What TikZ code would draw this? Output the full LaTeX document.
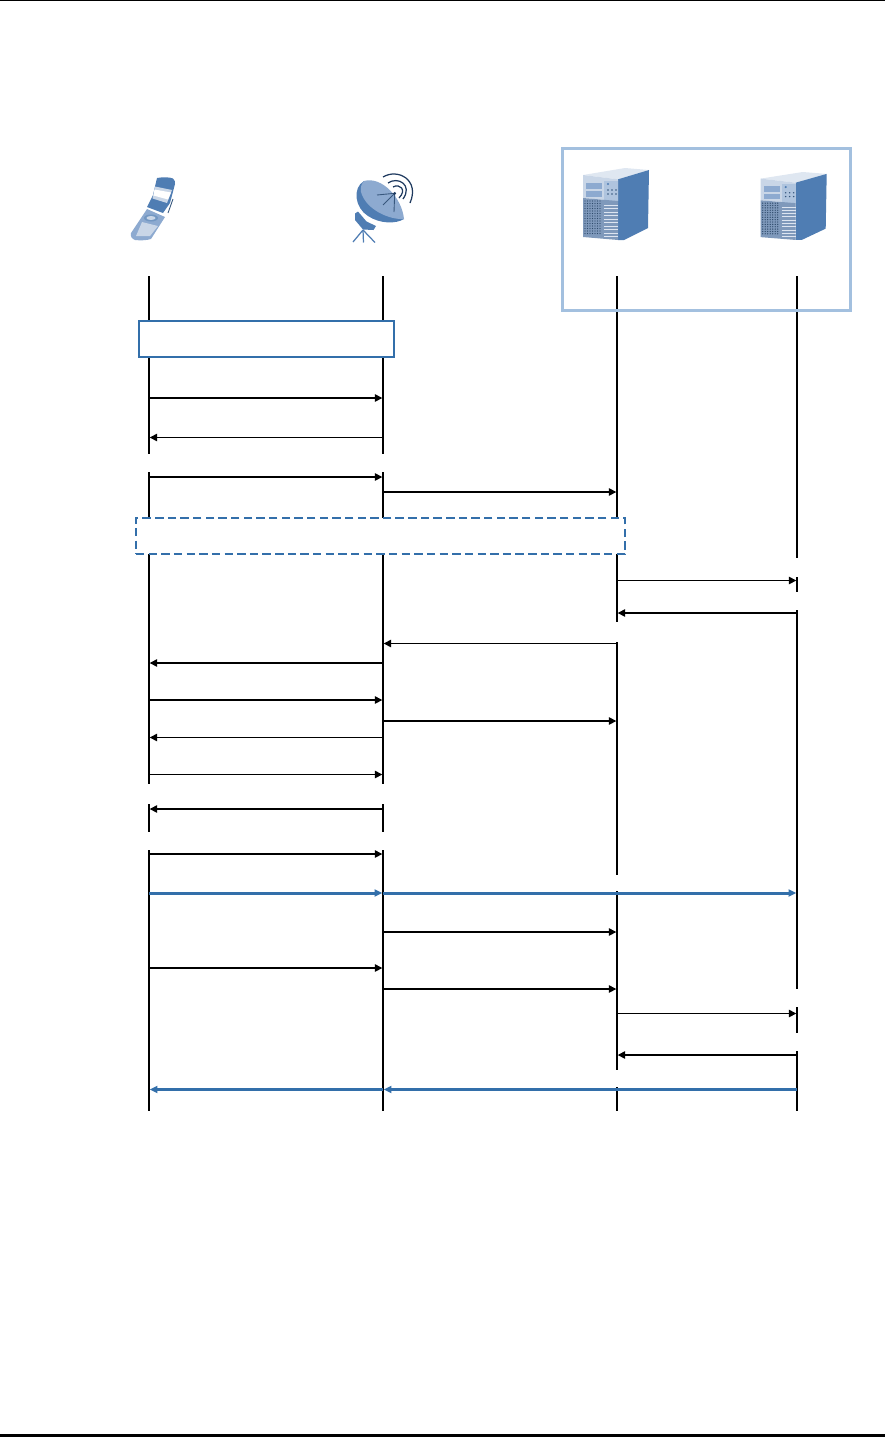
\documentclass[tikz,border=0pt]{standalone}
\usepackage{xcolor}
\usetikzlibrary{arrows.meta, calc, positioning}
\definecolor{msgblue}{HTML}{336FAA}
\definecolor{framelt}{HTML}{A3C0DF}
\definecolor{icondk}{HTML}{4F7DB3}
\definecolor{iconmd}{HTML}{8DAAD0}
\definecolor{iconlt}{HTML}{C9D6E7}
\definecolor{iconnavy}{HTML}{1F3A5F}
\tikzset{
    pics/server/.style={code={
        \fill[iconlt!60!white] (0,7) -- (42,0) -- (66,2) -- (35,11.3) -- cycle;
        \fill[icondk] (35,11.3) -- (66,2) -- (65,60) -- (41,72) -- (35,72) -- cycle;
        \fill[iconlt] (0,7) -- (35,11.3) -- (35,33) -- (0,30) -- cycle;
        \fill[iconmd] (3,15) rectangle (19,21);
        \fill[iconmd] (3,23) rectangle (19,29);
        \fill[iconmd!70!white] (21,12.5) rectangle (35,33);
        \fill[icondk] (25,16) circle (1.2);
        \foreach \dx in {25,29,33} \foreach \dy in {22,26}
            \fill[icondk!70!black] (\dx,\dy) circle (0.8);
        \fill[iconmd!90!black] (0,30) -- (35,33) -- (35,72) -- (0,69) -- cycle;
        % grille on the front, dots then slats
        \foreach \dx in {2,4.5,...,19} \foreach \dy in {33,35.5,...,67}
            \fill[icondk!60!black] (\dx,\dy) circle (0.7);
        \foreach \dy in {37,40.5,...,70}
            \draw[white!70!iconmd, line width=0.45pt] (21,\dy) -- (35,\dy);
    }},
}
\begin{document}
\begin{tikzpicture}[
    x=0.02cm, y=-0.02cm,
    life/.style={line width=1.15pt, black},
    msg/.style={-{Triangle[length=4.2pt,width=4.2pt]}, line width=0.85pt, black, shorten >=0.4pt},
    msgbold/.style={-{Triangle[length=4.4pt,width=4pt]}, line width=1.7pt, msgblue, shorten >=0.4pt},
    solidbox/.style={draw=msgblue, line width=1.15pt, fill=white, inner sep=0pt, outer sep=0pt},
    dashbox/.style={draw=msgblue, line width=1.15pt, fill=white, inner sep=0pt, outer sep=0pt,
        dash pattern=on 4.8pt off 2.4pt},
    groupbox/.style={draw=framelt, line width=1.7pt, inner sep=0pt, outer sep=0pt},
    pagerule/.style={black},
]
\useasboundingbox (0,0) rectangle (885,1437);

% page rules
\fill[pagerule] (0,0) rectangle (885,1.2);
\fill[pagerule] (0,1434) rectangle (885,1437);

% --- heads of the lifelines ---
\coordinate (phone) at (149,276);
\coordinate (dish)  at (383,276);
\coordinate (srvA)  at (617,276);
\coordinate (srvB)  at (797,276);

% --- breaks in the lifelines (y heights) ---
\coordinate (gapAa) at (0,454);
\coordinate (gapAb) at (0,472);
\coordinate (gapBa) at (0,784);
\coordinate (gapBb) at (0,804);
\coordinate (gapCa) at (0,832);
\coordinate (gapCb) at (0,850);
\coordinate (gapDa) at (0,622);
\coordinate (gapDb) at (0,642);
\coordinate (gapEa) at (0,875);
\coordinate (gapEb) at (0,891);
\coordinate (gapFa) at (0,1070);
\coordinate (gapFb) at (0,1087);
\coordinate (gapGa) at (0,558);
\coordinate (gapGb) at (0,577);
\coordinate (gapHa) at (0,592);
\coordinate (gapHb) at (0,610);
\coordinate (gapIa) at (0,989);
\coordinate (gapIb) at (0,1007);
\coordinate (gapJa) at (0,1033);
\coordinate (gapJb) at (0,1051);
\coordinate (foot)  at (0,1111);

% phone and dish lifelines
\draw[life] (phone) -- (phone |- gapAa);
\draw[life] (phone |- gapAb) -- (phone |- gapBa);
\draw[life] (phone |- gapBb) -- (phone |- gapCa);
\draw[life] (phone |- gapCb) -- (phone |- foot);
\draw[life] (dish) -- (dish |- gapAa);
\draw[life] (dish |- gapAb) -- (dish |- gapBa);
\draw[life] (dish |- gapBb) -- (dish |- gapCa);
\draw[life] (dish |- gapCb) -- (dish |- foot);
% server lifelines
\draw[life] (srvA) -- (srvA |- gapDa);
\draw[life] (srvA |- gapDb) -- (srvA |- gapEa);
\draw[life] (srvA |- gapEb) -- (srvA |- gapFa);
\draw[life] (srvA |- gapFb) -- (srvA |- foot);
\draw[life] (srvB) -- (srvB |- gapGa);
\draw[life] (srvB |- gapGb) -- (srvB |- gapHa);
\draw[life] (srvB |- gapHb) -- (srvB |- gapIa);
\draw[life] (srvB |- gapIb) -- (srvB |- gapJa);
\draw[life] (srvB |- gapJb) -- (srvB |- foot);

% --- boxes over the lifelines ---
\node[solidbox, minimum width=5.09cm, minimum height=0.71cm] (setup) at (266.4,338.8) {};
\node[dashbox, minimum width=9.78cm, minimum height=0.73cm] (relay) at (380.4,535.9) {};
\node[groupbox, minimum width=5.77cm, minimum height=3.23cm] (group) at (706.4,229.4) {};

% --- message heights ---
\coordinate (m1)  at (0,398);
\coordinate (m2)  at (0,437.5);
\coordinate (m3)  at (0,477);
\coordinate (m4)  at (0,492);
\coordinate (m5)  at (0,580.5);
\coordinate (m6)  at (0,613);
\coordinate (m7)  at (0,643.5);
\coordinate (m8)  at (0,663);
\coordinate (m9)  at (0,700);
\coordinate (m10) at (0,721);
\coordinate (m11) at (0,737.5);
\coordinate (m12) at (0,774.5);
\coordinate (m13) at (0,809);
\coordinate (m14) at (0,854);
\coordinate (m15) at (0,893);
\coordinate (m16) at (0,932);
\coordinate (m17) at (0,968);
\coordinate (m18) at (0,989);
\coordinate (m19) at (0,1013.5);
\coordinate (m20) at (0,1055);
\coordinate (m21) at (0,1089.5);

% messages
\draw[msg] (phone |- m1)  -- (dish |- m1);
\draw[msg] (dish |- m2)   -- (phone |- m2);
\draw[msg] (phone |- m3)  -- (dish |- m3);
\draw[msg] (dish |- m4)   -- (srvA |- m4);
\draw[msg] (srvA |- m5)   -- (srvB |- m5);
\draw[msg] (srvB |- m6)   -- (srvA |- m6);
\draw[msg] (srvA |- m7)   -- (dish |- m7);
\draw[msg] (dish |- m8)   -- (phone |- m8);
\draw[msg] (phone |- m9)  -- (dish |- m9);
\draw[msg] (dish |- m10)  -- (srvA |- m10);
\draw[msg] (dish |- m11)  -- (phone |- m11);
\draw[msg] (phone |- m12) -- (dish |- m12);
\draw[msg] (dish |- m13)  -- (phone |- m13);
\draw[msg] (phone |- m14) -- (dish |- m14);
\draw[msg] (dish |- m16)  -- (srvA |- m16);
\draw[msg] (phone |- m17) -- (dish |- m17);
\draw[msg] (dish |- m18)  -- (srvA |- m18);
\draw[msg] (srvA |- m19)  -- (srvB |- m19);
\draw[msg] (srvB |- m20)  -- (srvA |- m20);
% the two blue exchanges
\draw[msgbold] (phone |- m15) -- (dish |- m15);
\draw[msgbold] (dish |- m15)  -- (srvB |- m15);
\draw[msgbold] (srvB |- m21)  -- (dish |- m21);
\draw[msgbold] (dish |- m21)  -- (phone |- m21);

% --- phone icon ---
\fill[iconmd] (147,209) -- (165,217) -- (151,239) .. controls (147,240.5) and (139,240.5) .. (135,240)
    .. controls (132,239) and (130,236) .. (131,233) -- cycle;
\fill[iconlt] (142,222) -- (158,226) -- (150,236) -- (136,236) -- cycle;
\draw[icondk!70!black, line width=0.5pt] (173,199) -- (168,213);
\fill[icondk] (157,178) .. controls (162,177) and (170,177) .. (173,178.5)
    .. controls (175,180) and (175,182) .. (175,184) -- (170,203) -- (163,213) -- (147,207)
    -- (153,195) -- cycle;
\fill[iconlt] (155,186.5) -- (172,190) -- (167,203) -- (152.5,198.5) -- cycle;
\fill[white] (154.5,189.5) -- (171,192.5) -- (168,199.5) -- (153.5,195.5) -- cycle;
\fill[icondk!80!white] (151,218) ellipse [x radius=7, y radius=3.5];
\fill[iconlt] (151,218) ellipse [x radius=4.5, y radius=2];

% --- dish icon ---
\draw[icondk, line width=0.7pt] (363,230) -- (353,242);
\draw[icondk, line width=0.7pt] (363,230) -- (363.5,242.5);
\draw[icondk, line width=0.7pt] (363,230) -- (375,242.5);
\fill[icondk] (355,213.5) -- (358,211.5) -- (366.5,221.5) -- (376,226) -- (373.5,230) -- (363,229.5) -- (355,220) -- cycle;
\fill[icondk] (364,181) .. controls (352,188) and (355,208) .. (368,216)
    .. controls (380,224) and (396,224) .. (404,219) -- cycle;
\fill[iconmd] (364,181) .. controls (382,176) and (402,198) .. (404,219)
    .. controls (390,220) and (366,210) .. (361,192) .. controls (360,187) and (362,183) .. (364,181) -- cycle;
\draw[icondk!70!black, line width=0.5pt] (394.7,193.3) -- (377,195);
\draw[icondk!70!black, line width=0.5pt] (394.7,193.3) -- (383,205);
\draw[icondk!70!black, line width=0.5pt] (394.7,193.3) -- (394,212);
\fill[iconnavy] (394.7,193.3) circle (1.5);
\draw[iconnavy, line width=0.7pt] (383,177) .. controls (398,168) and (420,180) .. (410,203);
\draw[iconnavy, line width=0.7pt] (388,183) .. controls (398,176) and (413,185) .. (403,199);
\draw[iconnavy, line width=0.7pt] (393,187) .. controls (400,183) and (407,190) .. (399,198);

% --- server icons ---
\pic at (583,168) {server};
\pic[yscale=0.944] at (760.7,172) {server};
\end{tikzpicture}
\end{document}
